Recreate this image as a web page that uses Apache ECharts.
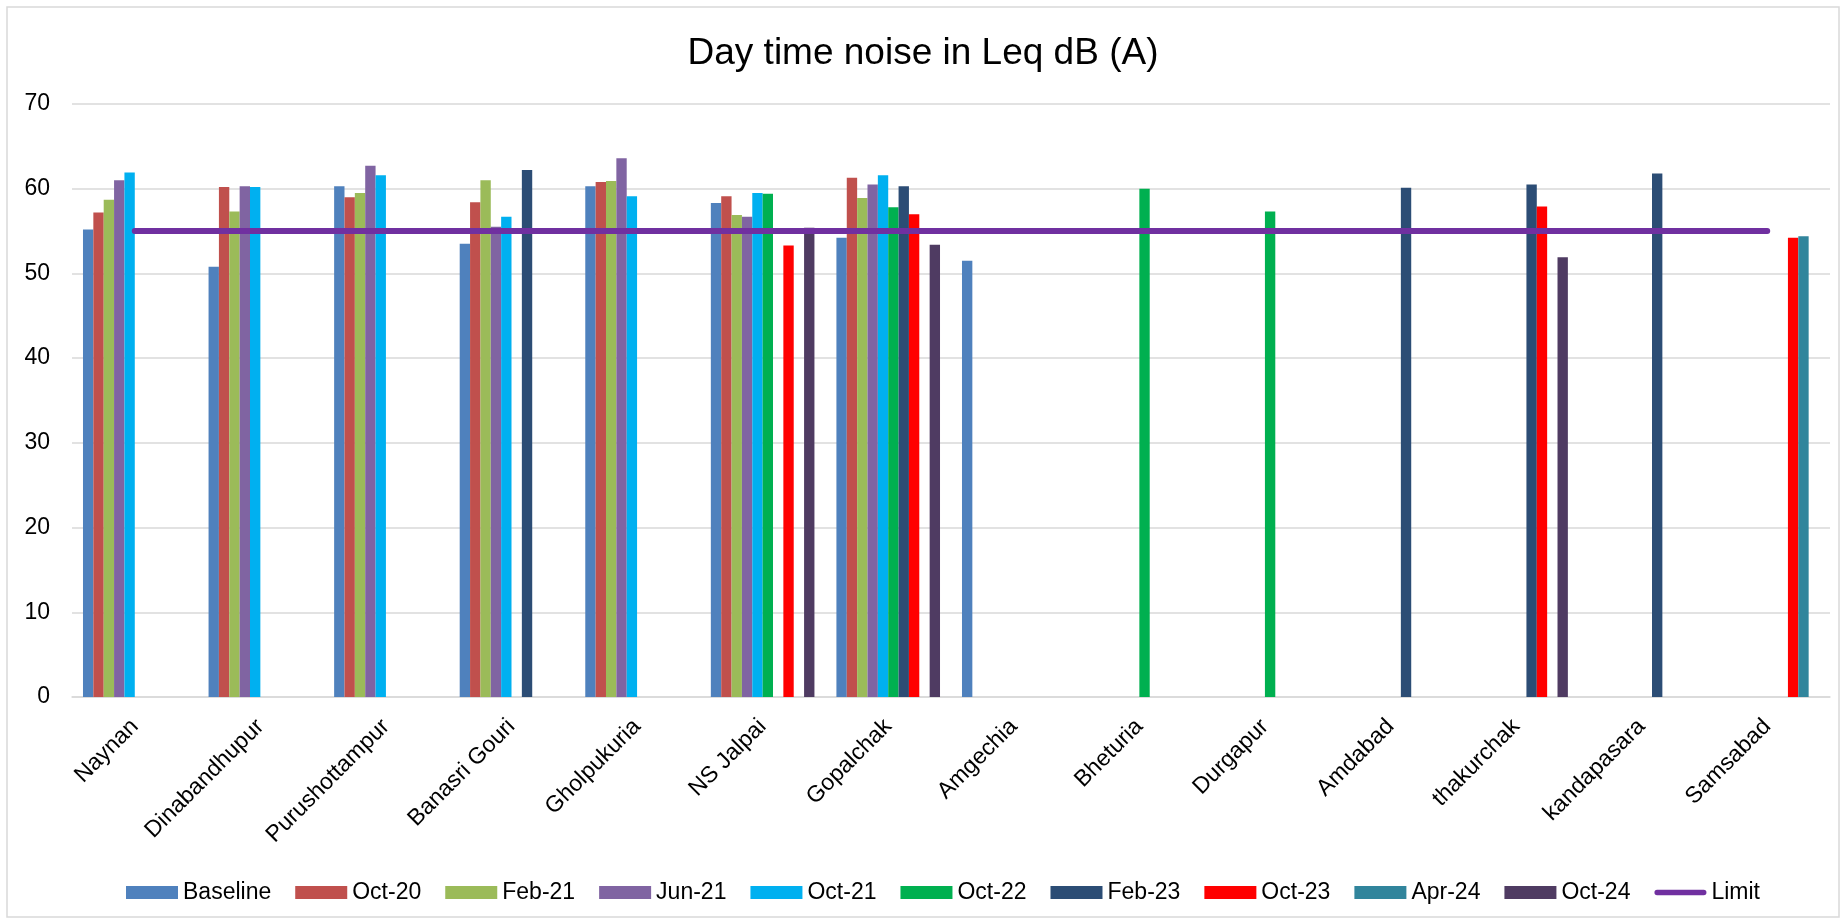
<!DOCTYPE html>
<html>
<head>
<meta charset="utf-8">
<title>Day time noise</title>
<script src="https://cdn.jsdelivr.net/npm/echarts@6/dist/echarts.min.js"></script>
<style>
  html, body { margin: 0; padding: 0; background: #fff; }
  #noiseChart { width: 1846px; height: 924px; }
</style>
</head>
<body>
<div id="noiseChart"></div>
<script>
// 监测点
var locations = ["Naynan", "Dinabandhupur", "Purushottampur", "Banasri Gouri", "Gholpukuria",
  "NS Jalpai", "Gopalchak", "Amgechia", "Bheturia", "Durgapur", "Amdabad",
  "thakurchak", "kandapasara", "Samsabad"];

// 各次监测值 (null = 未监测)
var baseline = [55.2, 50.8, 60.3, 53.5, 60.3, 58.3, 54.2, 51.5, null, null, null, null, null, null];
var oct20    = [57.2, 60.2, 59.0, 58.4, 60.8, 59.1, 61.3, null, null, null, null, null, null, null];
var feb21    = [58.7, 57.3, 59.5, 61.0, 60.9, 56.9, 58.9, null, null, null, null, null, null, null];
var jun21    = [61.0, 60.3, 62.7, 55.5, 63.6, 56.7, 60.5, null, null, null, null, null, null, null];
var oct21    = [61.9, 60.2, 61.6, 56.7, 59.1, 59.5, 61.6, null, null, null, null, null, null, null];
var oct22    = [null, null, null, null, null, 59.4, 57.8, null, 60.0, 57.3, null, null, null, null];
var feb23    = [null, null, null, 62.2, null, null, 60.3, null, null, null, 60.1, 60.5, 61.8, null];
var oct23    = [null, null, null, null, null, 53.3, 57.0, null, null, null, null, 57.9, null, 54.2];
var apr24    = [null, null, null, null, null, null, null, null, null, null, null, null, null, 54.4];
var oct24    = [null, null, null, null, null, 55.4, 53.4, null, null, null, null, 51.9, null, null];
var limit    = [55, 55, 55, 55, 55, 55, 55, 55, 55, 55, 55, 55, 55, 55];

var yTicks = { min: 0, max: 70, interval: 10 };

var barSeries = [
  { name: "Baseline", data: baseline, color: "#4F81BD" },
  { name: "Oct-20", data: oct20, color: "#C0504D" },
  { name: "Feb-21", data: feb21, color: "#9BBB59" },
  { name: "Jun-21", data: jun21, color: "#8064A2" },
  { name: "Oct-21", data: oct21, color: "#00B0F0" },
  { name: "Oct-22", data: oct22, color: "#00B050" },
  { name: "Feb-23", data: feb23, color: "#2C4D75" },
  { name: "Oct-23", data: oct23, color: "#FF0000" },
  { name: "Apr-24", data: apr24, color: "#31859C" },
  { name: "Oct-24", data: oct24, color: "#4F3B62" }
];

var font = "Liberation Sans, Arial, sans-serif";
var chart = echarts.init(document.getElementById("noiseChart"));

var series = barSeries.map(function (s) {
  return {
    name: s.name,
    type: "bar",
    data: s.data,
    barGap: "0%",
    barCategoryGap: "17.5%",
    itemStyle: { color: s.color },
    emphasis: { disabled: true }
  };
});
series.push({
  name: "Limit",
  type: "line",
  data: limit,
  symbol: "none",
  lineStyle: { color: "#7030A0", width: 6, cap: "round" },
  itemStyle: { color: "#7030A0" },
  z: 5
});

var option = {
  animation: false,
  title: {
    text: "Day time noise in Leq dB (A)",
    left: "center",
    top: 30,
    textStyle: { fontFamily: font, fontSize: 37, fontWeight: "normal", color: "#000" }
  },
  graphic: [{
    type: "rect",
    shape: { x: 7, y: 7, width: 1832, height: 910 },
    style: { fill: "none", stroke: "#D9D9D9", lineWidth: 1.5 },
    silent: true
  }],
  legend: {
    bottom: 15,
    left: 121,
    itemWidth: 52,
    itemHeight: 13,
    itemGap: 24,
    textStyle: { fontFamily: font, fontSize: 23, color: "#000" },
    data: barSeries.map(function (s) { return { name: s.name, icon: "rect" }; })
      .concat([{ name: "Limit", icon: "path://M3,0 L55,0 A3,3 0 0 1 55,6 L3,6 A3,3 0 0 1 3,0 Z" }])
  },
  grid: { left: 72, right: 16, top: 104, bottom: 227 },
  xAxis: {
    type: "category",
    data: locations,
    axisTick: { show: false },
    axisLine: { lineStyle: { color: "#D9D9D9", width: 1.5 } },
    axisLabel: {
      interval: 0,
      rotate: 45,
      margin: 26,
      fontFamily: font,
      fontSize: 23,
      color: "#000"
    }
  },
  yAxis: {
    type: "value",
    min: yTicks.min,
    max: yTicks.max,
    interval: yTicks.interval,
    axisLine: { show: false },
    axisTick: { show: false },
    axisLabel: { margin: 22, fontFamily: font, fontSize: 23, color: "#000" },
    splitLine: { lineStyle: { color: "#D9D9D9", width: 1.5 } }
  },
  series: series
};
chart.setOption(option);
</script>
</body>
</html>
